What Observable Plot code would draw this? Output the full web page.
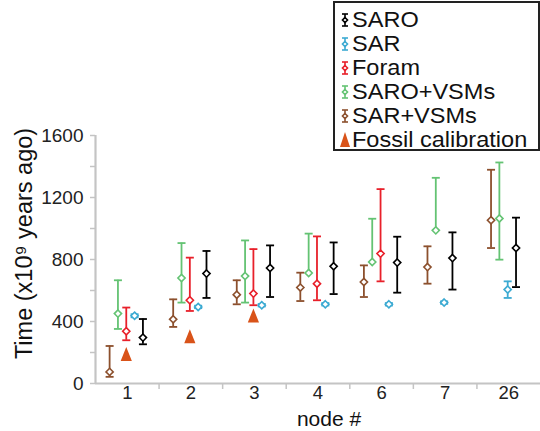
<!DOCTYPE html>
<html>
<head>
<meta charset="utf-8">
<script src="https://cdn.jsdelivr.net/npm/d3@7"></script>
<script src="https://cdn.jsdelivr.net/npm/@observablehq/plot@0.6"></script>
<style>
  html, body { margin: 0; padding: 0; background: #fff; }
  #wrap { position: relative; width: 540px; height: 431px; overflow: hidden; font-family: "Liberation Sans", Arial, sans-serif; }
  #legend { position: absolute; left: 333px; top: 1px; width: 203px; height: 146px; border: 2px solid #222; background: #fff; }
  .item { position: absolute; left: 0; height: 24px; display: flex; align-items: center; font-size: 21.4px; line-height: 21px; color: #111; white-space: nowrap; }
  .item svg { margin-left: 4px; margin-right: 1px; }
  .item span { display: inline-block; transform: scaleX(1.1); transform-origin: left center; }
</style>
</head>
<body>
<div id="wrap">
  <div id="chart"></div>
  <div id="legend"></div>
</div>
<script>
// ---- data ----
const nodes = ["1", "2", "3", "4", "6", "7", "26"];
const legendOrder = ["SARO", "SAR", "Foram", "SARO+VSMs", "SAR+VSMs"];
const slotOrder = ["SAR+VSMs", "SARO+VSMs", "Foram", "SAR", "SARO"];

const saroMean = [296, 709, 745, 756, 780, 809, 874];
const saroLo   = [253, 552, 558, 577, 586, 606, 622];
const saroHi   = [416, 855, 891, 910, 947, 975, 1070];

const sarMean = [437, 494, 505, 511, 511, 522, 606];
const sarLo   = [427, 486, 497, 503, 503, 514, 552];
const sarHi   = [447, 502, 513, 519, 519, 530, 659];

const foramMean = [337, 537, 580, 644, 838, null, null];
const foramLo   = [279, 468, 505, 537, 659, null, null];
const foramHi   = [490, 812, 867, 949, 1254, null, null];

const saroVsmMean = [451, 681, 693, 713, 784, 988, 1065];
const saroVsmLo   = [352, 522, 522, 713, 784, 988, 799];
const saroVsmHi   = [666, 906, 923, 967, 1063, 1327, 1426];

const sarVsmMean = [75, 414, 573, 619, 655, 751, 1053];
const sarVsmLo   = [43, 365, 511, 532, 558, 644, 874];
const sarVsmHi   = [242, 543, 666, 715, 762, 885, 1379];

const fossilCalibration = [190, 305, 438, null, null, null, null];

const yTicks = [0, 400, 800, 1200, 1600];
const yMinorTicks = [200, 600, 1000, 1400];

// ---- styles ----
const seriesColors = ["#000000", "#3caad2", "#e8202a", "#64c373", "#8c502d"];
const fossilColor = "#d95319";
const axisGray = "#c4c4c4";

// ---- build rows ----
const table = {
  "SARO": [saroMean, saroLo, saroHi],
  "SAR": [sarMean, sarLo, sarHi],
  "Foram": [foramMean, foramLo, foramHi],
  "SARO+VSMs": [saroVsmMean, saroVsmLo, saroVsmHi],
  "SAR+VSMs": [sarVsmMean, sarVsmLo, sarVsmHi]
};
const rows = [];
nodes.forEach((n, i) => {
  let slot = 0;
  slotOrder.forEach(s => {
    const [m, l, h] = table[s];
    if (m[i] == null) return;
    rows.push({node: n, ni: i + 1, series: s, slot, mean: m[i], lo: l[i], hi: h[i]});
    slot++;
  });
});
const fossilRows = [];
nodes.forEach((n, i) => {
  if (fossilCalibration[i] != null) fossilRows.push({node: n, ni: i + 1, slot: slotOrder.indexOf("Foram"), value: fossilCalibration[i]});
});

const step = 0.131;
const xpos = d => d.ni + (d.slot - 2) * step - 0.016;

const cap = {draw(ctx, size) { const r = Math.sqrt(size / Math.PI); ctx.moveTo(-r, 0); ctx.lineTo(r, 0); }};
const tri = {draw(ctx, size) { const r = Math.sqrt(size / Math.PI); ctx.moveTo(0, -r); ctx.lineTo(0.8 * r, r); ctx.lineTo(-0.8 * r, r); ctx.closePath(); }};
const rhomb = {draw(ctx, size) { const r = Math.sqrt(size / Math.PI); ctx.moveTo(0, -r); ctx.lineTo(r, 0); ctx.lineTo(0, r); ctx.lineTo(-r, 0); ctx.closePath(); }};

const chart = Plot.plot({
  width: 540,
  height: 431,
  marginLeft: 95,
  marginRight: 0,
  marginTop: 135,
  marginBottom: 48,
  style: {fontFamily: "Liberation Sans, Arial, sans-serif", color: "#222", background: "white", overflow: "visible"},
  x: {type: "linear", domain: [0.5, nodes.length + 0.5], axis: null},
  y: {domain: [0, 1600], axis: null},
  color: {domain: legendOrder, range: seriesColors},
  marks: [
    Plot.axisY({ticks: yTicks, tickSize: 5, tickPadding: 7, fontSize: 19, tickFormat: d => String(d), stroke: axisGray, strokeWidth: 1.5, label: null}),
    Plot.axisY({ticks: yMinorTicks, tickSize: 5, tickFormat: () => "", stroke: axisGray, strokeWidth: 1.5, label: null}),
    Plot.axisX({ticks: d3.range(1, nodes.length + 1), tickSize: 0, tickPadding: 2, fontSize: 18.5, tickFormat: i => nodes[i - 1], label: null}),
    Plot.axisX({ticks: d3.range(1.5, nodes.length), tickSize: 6, tickFormat: () => "", stroke: axisGray, strokeWidth: 1.5, label: null}),
    Plot.ruleY([0], {stroke: axisGray, strokeWidth: 2.2}),
    Plot.ruleX([0.5], {stroke: axisGray, strokeWidth: 2.2}),
    Plot.ruleX(rows, {x: xpos, y1: "lo", y2: "hi", stroke: "series", strokeWidth: 1.8}),
    Plot.dot(rows, {x: xpos, y: "hi", symbol: cap, r: 4, stroke: "series", strokeWidth: 1.8}),
    Plot.dot(rows, {filter: d => d.lo < d.mean, x: xpos, y: "lo", symbol: cap, r: 4, stroke: "series", strokeWidth: 1.8}),
    Plot.dot(rows, {x: xpos, y: "mean", symbol: rhomb, r: 3.6, stroke: "series", fill: "white", strokeWidth: 1.6}),
    Plot.dot(fossilRows, {x: xpos, y: "value", symbol: tri, r: 7, fill: fossilColor}),
    Plot.text(["Time (x10\u2079 years ago)"], {text: d => d, frameAnchor: "left", rotate: -90, dx: -71, dy: -16, fontSize: 23.5, textAnchor: "middle", lineAnchor: "middle", fill: "#111"}),
    Plot.text(["node #"], {text: d => d, frameAnchor: "bottom", dx: 11, dy: 36, fontSize: 21, textAnchor: "middle", lineAnchor: "middle", fill: "#111"})
  ]
});
document.getElementById("chart").appendChild(chart);

// ---- legend ----
const legend = document.getElementById("legend");
const ns = "http://www.w3.org/2000/svg";
legendOrder.concat(["Fossil calibration"]).forEach((name, i) => {
  const item = document.createElement("div");
  item.className = "item";
  item.style.top = (5 + i * 24) + "px";
  const svg = document.createElementNS(ns, "svg");
  svg.setAttribute("width", "12");
  svg.setAttribute("height", "18");
  if (i < legendOrder.length) {
    const c = seriesColors[i];
    svg.innerHTML = `<g stroke="${c}" stroke-width="1.6" fill="none">
      <line x1="6" y1="3" x2="6" y2="15"/><line x1="3" y1="3" x2="9" y2="3"/><line x1="3" y1="15" x2="9" y2="15"/>
      <path d="M6,6.5 L8.5,9 L6,11.5 L3.5,9 Z" fill="white"/></g>`;
  } else {
    svg.innerHTML = `<path d="M6,1 L11,16 L1,16 Z" fill="${fossilColor}"/>`;
  }
  item.appendChild(svg);
  const span = document.createElement("span");
  span.textContent = name;
  item.appendChild(span);
  legend.appendChild(item);
});
</script>
</body>
</html>
